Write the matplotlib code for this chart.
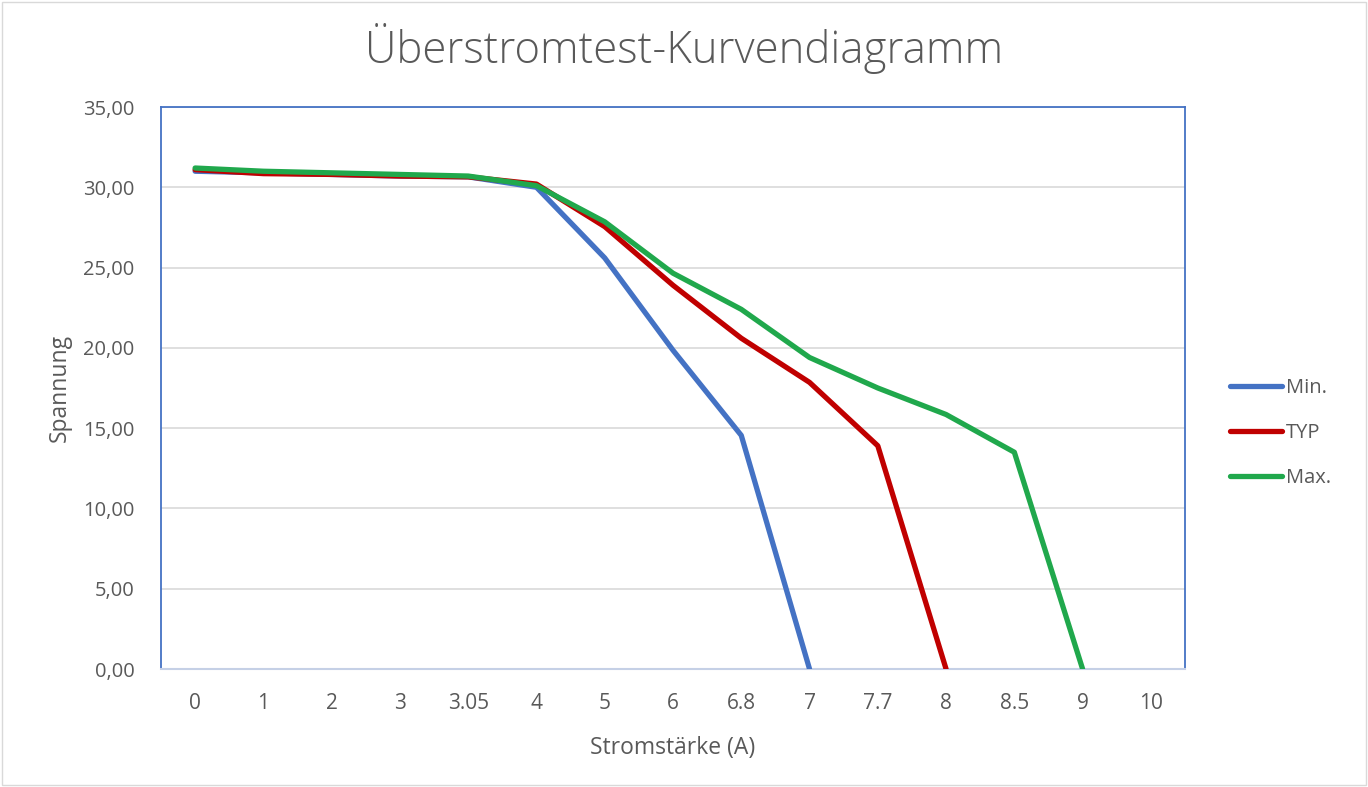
import numpy as np
import matplotlib.pyplot as plt
from matplotlib.patches import Rectangle

# categories on x axis (Stromstärke)
current = ["0", "1", "2", "3", "3.05", "4", "5", "6", "6.8", "7", "7.7", "8", "8.5", "9", "10"]

# voltage values per series (series end where the curve hits 0)
v_min = [31.0, 30.9, 30.8, 30.7, 30.65, 30.0, 25.6, 19.85, 14.55, 0.0]
v_typ = [31.1, 30.85, 30.8, 30.7, 30.65, 30.2, 27.55, 23.9, 20.6, 17.85, 13.9, 0.0]
v_max = [31.2, 31.0, 30.9, 30.8, 30.7, 30.1, 27.85, 24.65, 22.4, 19.4, 17.5, 15.85, 13.5, 0.0]

yticks = [0, 5, 10, 15, 20, 25, 30, 35]

plt.rcParams['font.family'] = ['Open Sans', 'DejaVu Sans']
grey = '#595959'

fig = plt.figure(figsize=(13.68, 7.87), dpi=100)
ax = fig.add_axes([161/1368, 1 - 669/787, (1185-161)/1368, (669-107)/787])

x = np.arange(len(current))
style = dict(lw=3.8, solid_capstyle='round', solid_joinstyle='round')
ax.plot(x[:len(v_min)], v_min, color='#4472C4', label='Min.', zorder=3, **style)
ax.plot(x[:len(v_typ)], v_typ, color='#C00000', label='TYP', zorder=4, **style)
ax.plot(x[:len(v_max)], v_max, color='#20A84C', label='Max.', zorder=5, **style)

ax.set_xlim(-0.5, len(current) - 0.5)
ax.set_ylim(0, 35)
ax.set_xticks(x)
ax.set_xticklabels(current)
ax.set_yticks(yticks)
ax.set_yticklabels([f"{v:.2f}".replace('.', ',') for v in yticks])
ax.tick_params(length=0, colors=grey)
ax.tick_params(axis='x', labelsize=15, pad=17)
ax.tick_params(axis='y', labelsize=14.5, pad=19)

ax.grid(axis='y', color='#d9d9d9', lw=1.2)
ax.set_axisbelow(True)
for s in ['left', 'top', 'right']:
    ax.spines[s].set_color('#4472C4')
    ax.spines[s].set_linewidth(1.3)
ax.spines['bottom'].set_color('#c5d0e6')
ax.spines['bottom'].set_linewidth(1.5)

ax.set_xlabel('Stromstärke (A)', color=grey, fontsize=16.5, labelpad=16)
ax.set_ylabel('Spannung', color=grey, fontsize=16.5, labelpad=8)

fig.text(0.5, 1 - 49/787, 'Überstromtest-Kurvendiagramm', ha='center', va='center',
         color=grey, fontsize=31.5, fontweight='light')

fig.legend(loc='center left', bbox_to_anchor=(1212/1368, 1 - 433/787), frameon=False,
           fontsize=14.5, labelcolor=grey, handlelength=2.6, handletextpad=0.15, labelspacing=1.25)

fig.patches.append(Rectangle((2/1368, 2/787), 1 - 4/1368, 1 - 4/787, transform=fig.transFigure,
                             fill=False, edgecolor='#d9d9d9', lw=1))

fig.savefig('out.png', dpi=100, facecolor='white')
